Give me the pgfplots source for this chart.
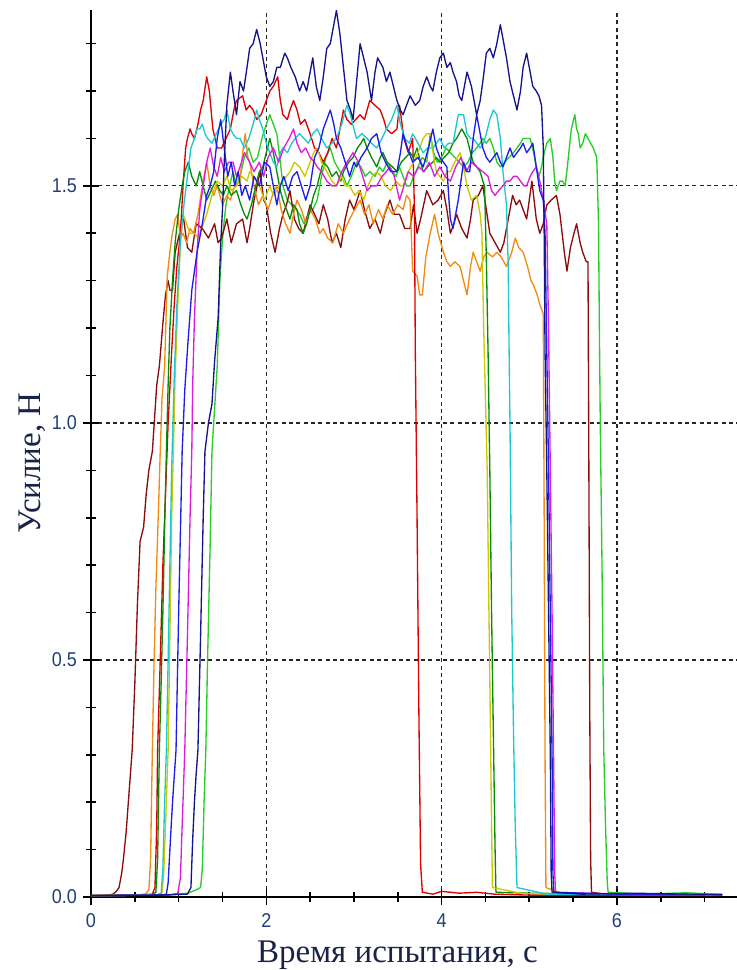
\documentclass[border=0pt]{standalone}
\usepackage{pgfplots}
\pgfplotsset{compat=1.18}
\usepackage{fontspec}
\setmainfont{Liberation Serif}
\newfontfamily\tickfont[FakeStretch=0.9]{Liberation Sans}

\definecolor{cMaroon}{RGB}{140,12,12}
\definecolor{cOrange}{RGB}{240,140,20}
\definecolor{cRed}{RGB}{220,0,0}
\definecolor{cDkGreen}{RGB}{10,140,10}
\definecolor{cYellow}{RGB}{205,200,0}
\definecolor{cCyan}{RGB}{30,200,210}
\definecolor{cBlue}{RGB}{30,30,230}
\definecolor{cMagenta}{RGB}{220,30,220}
\definecolor{cNavy}{RGB}{20,20,140}
\definecolor{cGreen}{RGB}{40,205,40}
\definecolor{tickblue}{RGB}{32,64,115}
\definecolor{labelnavy}{RGB}{25,35,70}

\begin{document}
\begin{tikzpicture}
\path[use as bounding box] (-68.25pt,-54.75pt) rectangle (484.5pt,672.75pt);
\begin{axis}[
  at={(0,0)}, anchor=south west,
  scale only axis, width=484.5pt, height=665.25pt,
  xmin=0, xmax=7.37, ymin=0, ymax=1.871,
  axis x line=bottom, axis y line=left,
  axis line style={-, line width=1.3pt, black},
  xtick={0,2,4,6}, xticklabels={0,2,4,6},
  minor xtick={0.5,1,1.5,2.5,3,3.5,4.5,5,5.5,6.5,7},
  ytick={0,0.5,1,1.5}, yticklabels={0.0,0.5,1.0,1.5},
  minor ytick={0.1,0.2,0.3,0.4,0.6,0.7,0.8,0.9,1.1,1.2,1.3,1.4,1.6,1.7,1.8},
  tick align=center,
  major tick length=12pt, minor tick length=7pt,
  every tick/.style={black, line width=1.2pt},
  grid=major,
  major grid style={black!85, line width=0.9pt, dash pattern=on 3pt off 2.5pt},
  ticklabel style={font=\tickfont\fontsize{15}{16}\selectfont, text=tickblue},
  xticklabel style={yshift=-3pt},
  yticklabel style={xshift=-1pt},
  xlabel={Время испытания, с},
  ylabel={Усилие, Н},
  label style={font=\fontsize{24.75}{28}\selectfont, text=labelnavy},
  xlabel style={at={(axis description cs:0.4745,-0.0733)}, anchor=base},
  ylabel style={at={(axis description cs:-0.0789,0.4893)}, anchor=base},
  every axis plot/.append style={line width=1pt, line join=round, mark=none},
  clip=false,
]

% bright green run
\addplot[cGreen] coordinates {
(0,0.003) (0.9,0.005) (1.1,0.008) (1.2,0.015) (1.25,0.02) (1.27,0.06) (1.29,0.2) (1.31,0.31) (1.33,0.5) (1.36,0.75) (1.38,0.94) (1.41,1.03) (1.44,1.12) (1.47,1.30) (1.49,1.36) (1.51,1.41) (1.54,1.46) (1.58,1.50) (1.62,1.53) (1.66,1.50) (1.70,1.52) (1.75,1.56) (1.80,1.58) (1.85,1.55) (1.90,1.56) (1.95,1.60) (2.00,1.63) (2.04,1.65) (2.08,1.63) (2.12,1.61) (2.16,1.55) (2.19,1.50) (2.24,1.47) (2.29,1.46) (2.34,1.45) (2.38,1.44) (2.43,1.42) (2.48,1.44) (2.53,1.45) (2.58,1.47) (2.63,1.52) (2.68,1.56) (2.73,1.58) (2.78,1.55) (2.84,1.53) (2.88,1.52) (2.92,1.50) (2.97,1.52) (3.03,1.55) (3.08,1.54) (3.13,1.52) (3.18,1.53) (3.24,1.52) (3.29,1.54) (3.33,1.53) (3.38,1.55) (3.44,1.53) (3.48,1.52) (3.52,1.54) (3.56,1.52) (3.60,1.50) (3.64,1.50) (3.68,1.52) (3.73,1.54) (3.78,1.56) (3.83,1.55) (3.87,1.61) (3.91,1.57) (3.95,1.55) (4.00,1.56) (4.05,1.58) (4.10,1.57) (4.15,1.56) (4.20,1.55) (4.25,1.54) (4.30,1.55) (4.35,1.57) (4.40,1.58) (4.44,1.59) (4.47,1.60) (4.51,1.59) (4.55,1.60) (4.59,1.58) (4.63,1.55) (4.67,1.54) (4.72,1.55) (4.77,1.56) (4.82,1.57) (4.86,1.58) (4.90,1.59) (4.93,1.60) (4.97,1.60) (5.01,1.60) (5.05,1.57) (5.08,1.54) (5.11,1.52) (5.14,1.54) (5.17,1.57) (5.20,1.59) (5.24,1.60) (5.27,1.56) (5.29,1.51) (5.31,1.49) (5.35,1.51) (5.38,1.51) (5.41,1.50) (5.44,1.55) (5.48,1.62) (5.52,1.65) (5.54,1.62) (5.56,1.61) (5.58,1.58) (5.61,1.59) (5.64,1.61) (5.67,1.60) (5.70,1.59) (5.73,1.58) (5.77,1.56) (5.79,1.42) (5.80,1.20) (5.81,1.0) (5.83,0.7) (5.85,0.31) (5.87,0.15) (5.89,0.03) (5.90,0.01) (6.3,0.006) (6.8,0.009) (7.2,0.005)
};

% maroon run
\addplot[cMaroon] coordinates {
(0,0.003) (0.2,0.004) (0.25,0.006) (0.29,0.012) (0.32,0.02) (0.35,0.05) (0.37,0.08) (0.40,0.135) (0.43,0.21) (0.47,0.31) (0.50,0.45) (0.53,0.62) (0.56,0.75) (0.60,0.78) (0.63,0.85) (0.66,0.9) (0.70,0.94) (0.75,1.08) (0.78,1.12) (0.82,1.21) (0.85,1.27) (0.88,1.30) (0.90,1.28) (0.93,1.28) (0.96,1.36) (1.01,1.40) (1.05,1.44) (1.10,1.37) (1.15,1.36) (1.20,1.42) (1.27,1.41) (1.34,1.39) (1.41,1.42) (1.45,1.38) (1.49,1.39) (1.55,1.43) (1.60,1.38) (1.66,1.42) (1.73,1.43) (1.78,1.38) (1.81,1.41) (1.86,1.47) (1.93,1.53) (1.97,1.47) (2.0,1.46) (2.05,1.40) (2.10,1.36) (2.15,1.41) (2.19,1.44) (2.23,1.46) (2.27,1.49) (2.32,1.43) (2.37,1.41) (2.42,1.40) (2.46,1.43) (2.50,1.46) (2.55,1.44) (2.60,1.42) (2.65,1.46) (2.70,1.43) (2.75,1.38) (2.80,1.40) (2.85,1.37) (2.90,1.43) (2.95,1.47) (3.0,1.45) (3.07,1.49) (3.12,1.45) (3.18,1.41) (3.24,1.43) (3.30,1.40) (3.35,1.44) (3.41,1.47) (3.46,1.44) (3.52,1.44) (3.58,1.41) (3.64,1.41) (3.68,1.46) (3.72,1.40) (3.76,1.43) (3.83,1.49) (3.9,1.46) (3.96,1.47) (4.02,1.49) (4.06,1.45) (4.10,1.40) (4.14,1.42) (4.17,1.44) (4.23,1.41) (4.29,1.39) (4.33,1.43) (4.36,1.47) (4.42,1.48) (4.47,1.50) (4.51,1.45) (4.55,1.40) (4.61,1.38) (4.67,1.36) (4.71,1.38) (4.74,1.41) (4.78,1.45) (4.81,1.48) (4.85,1.46) (4.89,1.47) (4.93,1.45) (4.97,1.43) (5.03,1.51) (5.08,1.43) (5.12,1.40) (5.16,1.42) (5.20,1.46) (5.25,1.47) (5.31,1.48) (5.35,1.44) (5.40,1.36) (5.43,1.32) (5.47,1.37) (5.51,1.40) (5.54,1.42) (5.58,1.38) (5.61,1.36) (5.65,1.34) (5.67,1.34) (5.68,0.9) (5.69,0.4) (5.70,0.08) (5.71,0.01) (5.9,0.005) (6.5,0.004) (7.2,0.004)
};

% orange run
\addplot[cOrange] coordinates {
(0,0.003) (0.5,0.004) (0.62,0.006) (0.66,0.015) (0.68,0.08) (0.69,0.2) (0.70,0.31) (0.72,0.5) (0.74,0.65) (0.77,0.82) (0.79,0.94) (0.81,1.05) (0.84,1.12) (0.87,1.31) (0.90,1.36) (0.92,1.39) (0.96,1.43) (0.99,1.44) (1.02,1.39) (1.05,1.40) (1.09,1.38) (1.13,1.41) (1.17,1.40) (1.22,1.44) (1.27,1.50) (1.32,1.55) (1.36,1.50) (1.40,1.48) (1.44,1.50) (1.50,1.46) (1.55,1.48) (1.59,1.47) (1.64,1.50) (1.70,1.51) (1.73,1.57) (1.76,1.61) (1.79,1.56) (1.81,1.55) (1.86,1.50) (1.91,1.46) (1.96,1.48) (2.02,1.45) (2.07,1.48) (2.12,1.50) (2.17,1.45) (2.22,1.42) (2.27,1.40) (2.31,1.44) (2.35,1.47) (2.40,1.45) (2.45,1.42) (2.50,1.45) (2.56,1.43) (2.61,1.40) (2.65,1.41) (2.70,1.39) (2.76,1.38) (2.82,1.42) (2.88,1.40) (2.95,1.43) (3.01,1.45) (3.07,1.47) (3.12,1.44) (3.17,1.46) (3.22,1.42) (3.28,1.45) (3.33,1.43) (3.38,1.46) (3.44,1.44) (3.50,1.46) (3.56,1.45) (3.60,1.48) (3.64,1.47) (3.67,1.32) (3.72,1.31) (3.75,1.27) (3.78,1.27) (3.82,1.35) (3.87,1.40) (3.92,1.44) (3.96,1.40) (4.02,1.36) (4.06,1.34) (4.10,1.33) (4.15,1.34) (4.21,1.33) (4.25,1.30) (4.29,1.27) (4.33,1.33) (4.36,1.36) (4.40,1.34) (4.44,1.32) (4.48,1.35) (4.52,1.36) (4.58,1.35) (4.63,1.36) (4.68,1.35) (4.74,1.33) (4.80,1.36) (4.84,1.39) (4.88,1.37) (4.93,1.36) (4.98,1.33) (5.02,1.30) (5.05,1.29) (5.09,1.27) (5.12,1.25) (5.16,1.23) (5.17,0.8) (5.18,0.3) (5.19,0.02) (5.4,0.005) (6.5,0.004) (7.2,0.004)
};

% red run
\addplot[cRed] coordinates {
(0,0.003) (0.5,0.004) (0.70,0.006) (0.73,0.02) (0.75,0.15) (0.76,0.31) (0.79,0.5) (0.82,0.7) (0.85,0.85) (0.88,1.0) (0.92,1.15) (0.95,1.25) (0.98,1.33) (1.02,1.40) (1.05,1.50) (1.08,1.58) (1.10,1.60) (1.13,1.62) (1.15,1.61) (1.18,1.60) (1.22,1.63) (1.25,1.66) (1.28,1.68) (1.32,1.73) (1.35,1.70) (1.39,1.62) (1.44,1.58) (1.49,1.58) (1.54,1.60) (1.59,1.62) (1.63,1.66) (1.66,1.68) (1.73,1.69) (1.77,1.66) (1.81,1.67) (1.85,1.66) (1.89,1.64) (1.94,1.65) (2.0,1.68) (2.04,1.70) (2.08,1.71) (2.13,1.73) (2.16,1.68) (2.19,1.65) (2.24,1.64) (2.27,1.66) (2.31,1.68) (2.35,1.66) (2.39,1.63) (2.44,1.64) (2.50,1.61) (2.55,1.58) (2.60,1.57) (2.65,1.55) (2.70,1.57) (2.75,1.60) (2.80,1.58) (2.84,1.62) (2.88,1.66) (2.92,1.64) (2.97,1.63) (3.02,1.64) (3.07,1.65) (3.12,1.64) (3.18,1.68) (3.24,1.67) (3.30,1.66) (3.34,1.64) (3.37,1.62) (3.43,1.61) (3.49,1.62) (3.52,1.67) (3.57,1.60) (3.62,1.57) (3.67,1.60) (3.69,1.45) (3.70,1.15) (3.72,0.8) (3.74,0.4) (3.76,0.07) (3.78,0.01) (3.9,0.006) (4.0,0.012) (4.2,0.008) (4.4,0.01) (4.6,0.006) (5.0,0.004) (7.2,0.003)
};

% dark green run
\addplot[cDkGreen] coordinates {
(0,0.003) (0.7,0.005) (0.74,0.01) (0.76,0.08) (0.78,0.31) (0.80,0.45) (0.82,0.6) (0.84,0.78) (0.86,0.94) (0.88,1.08) (0.90,1.2) (0.93,1.30) (0.96,1.38) (1.00,1.45) (1.04,1.50) (1.07,1.53) (1.11,1.55) (1.15,1.52) (1.20,1.50) (1.24,1.53) (1.28,1.50) (1.32,1.47) (1.37,1.49) (1.42,1.51) (1.47,1.49) (1.51,1.48) (1.55,1.50) (1.60,1.48) (1.66,1.49) (1.71,1.46) (1.75,1.44) (1.78,1.43) (1.83,1.46) (1.88,1.50) (1.92,1.53) (1.96,1.54) (2.00,1.57) (2.04,1.60) (2.08,1.57) (2.12,1.53) (2.16,1.49) (2.19,1.47) (2.23,1.45) (2.27,1.43) (2.31,1.46) (2.35,1.45) (2.38,1.42) (2.42,1.40) (2.46,1.42) (2.50,1.45) (2.54,1.48) (2.58,1.50) (2.62,1.53) (2.65,1.55) (2.70,1.54) (2.75,1.52) (2.80,1.53) (2.85,1.51) (2.88,1.53) (2.94,1.55) (2.99,1.56) (3.04,1.58) (3.08,1.59) (3.11,1.60) (3.15,1.58) (3.20,1.56) (3.26,1.54) (3.30,1.56) (3.33,1.57) (3.38,1.55) (3.44,1.54) (3.49,1.53) (3.54,1.55) (3.59,1.56) (3.64,1.57) (3.68,1.56) (3.72,1.58) (3.76,1.55) (3.79,1.53) (3.84,1.54) (3.90,1.55) (3.94,1.56) (3.98,1.55) (4.03,1.56) (4.08,1.57) (4.13,1.59) (4.17,1.60) (4.20,1.61) (4.23,1.62) (4.26,1.61) (4.29,1.60) (4.33,1.57) (4.36,1.55) (4.40,1.54) (4.44,1.53) (4.47,1.51) (4.49,1.50) (4.51,1.35) (4.53,1.15) (4.55,0.9) (4.57,0.6) (4.59,0.35) (4.61,0.1) (4.62,0.01) (5.0,0.008) (6.0,0.006) (7.2,0.005)
};

% yellow run
\addplot[cYellow] coordinates {
(0,0.003) (0.75,0.004) (0.81,0.008) (0.83,0.05) (0.85,0.15) (0.88,0.31) (0.90,0.55) (0.92,0.8) (0.94,0.94) (0.96,1.1) (0.99,1.25) (1.02,1.38) (1.05,1.44) (1.09,1.42) (1.13,1.40) (1.18,1.40) (1.22,1.39) (1.26,1.41) (1.32,1.44) (1.38,1.48) (1.44,1.51) (1.50,1.50) (1.55,1.52) (1.60,1.49) (1.66,1.50) (1.72,1.52) (1.78,1.51) (1.81,1.53) (1.86,1.52) (1.92,1.50) (1.98,1.47) (2.04,1.50) (2.08,1.48) (2.12,1.49) (2.18,1.51) (2.23,1.52) (2.27,1.53) (2.32,1.55) (2.38,1.54) (2.44,1.52) (2.50,1.55) (2.54,1.57) (2.58,1.58) (2.63,1.55) (2.69,1.53) (2.75,1.51) (2.80,1.50) (2.86,1.52) (2.90,1.50) (2.95,1.50) (3.01,1.48) (3.06,1.49) (3.11,1.47) (3.16,1.50) (3.21,1.52) (3.26,1.53) (3.31,1.52) (3.36,1.50) (3.42,1.49) (3.48,1.51) (3.53,1.50) (3.56,1.50) (3.62,1.53) (3.68,1.55) (3.73,1.57) (3.79,1.60) (3.83,1.61) (3.87,1.61) (3.91,1.56) (3.94,1.53) (3.98,1.52) (4.02,1.51) (4.06,1.53) (4.10,1.53) (4.15,1.55) (4.21,1.57) (4.25,1.54) (4.29,1.50) (4.34,1.47) (4.40,1.48) (4.44,1.44) (4.46,1.40) (4.47,1.30) (4.48,1.2) (4.50,1.05) (4.52,0.9) (4.54,0.6) (4.56,0.31) (4.57,0.15) (4.58,0.02) (4.9,0.008) (5.3,0.006) (7.2,0.005)
};

% cyan run
\addplot[cCyan] coordinates {
(0,0.003) (0.75,0.004) (0.80,0.008) (0.82,0.06) (0.84,0.2) (0.86,0.31) (0.88,0.5) (0.90,0.7) (0.92,0.9) (0.95,1.1) (0.98,1.25) (1.02,1.38) (1.06,1.46) (1.10,1.52) (1.14,1.58) (1.18,1.60) (1.21,1.62) (1.24,1.62) (1.27,1.63) (1.30,1.61) (1.33,1.60) (1.38,1.59) (1.43,1.61) (1.48,1.63) (1.52,1.64) (1.55,1.66) (1.59,1.62) (1.62,1.61) (1.66,1.60) (1.70,1.60) (1.75,1.58) (1.80,1.60) (1.85,1.63) (1.89,1.66) (1.92,1.64) (1.96,1.62) (2.00,1.59) (2.04,1.57) (2.08,1.55) (2.12,1.54) (2.16,1.57) (2.19,1.58) (2.24,1.57) (2.29,1.59) (2.33,1.60) (2.38,1.61) (2.43,1.60) (2.48,1.59) (2.53,1.61) (2.58,1.62) (2.63,1.60) (2.69,1.58) (2.75,1.59) (2.80,1.60) (2.86,1.63) (2.92,1.67) (2.96,1.65) (3.00,1.62) (3.03,1.60) (3.09,1.61) (3.15,1.60) (3.20,1.59) (3.26,1.58) (3.32,1.60) (3.37,1.62) (3.43,1.64) (3.49,1.67) (3.53,1.63) (3.58,1.60) (3.63,1.59) (3.67,1.61) (3.73,1.59) (3.79,1.57) (3.84,1.58) (3.90,1.58) (3.94,1.59) (3.98,1.60) (4.03,1.58) (4.08,1.59) (4.13,1.59) (4.16,1.62) (4.19,1.65) (4.25,1.65) (4.29,1.61) (4.33,1.60) (4.36,1.60) (4.40,1.59) (4.44,1.58) (4.48,1.59) (4.51,1.61) (4.55,1.64) (4.59,1.66) (4.63,1.65) (4.67,1.60) (4.70,1.53) (4.74,1.46) (4.76,1.33) (4.77,1.15) (4.78,1.0) (4.80,0.6) (4.82,0.35) (4.84,0.15) (4.86,0.02) (5.2,0.006) (7.2,0.005)
};

% magenta run
\addplot[cMagenta] coordinates {
(0,0.003) (0.9,0.004) (0.99,0.008) (1.02,0.04) (1.04,0.15) (1.07,0.31) (1.10,0.55) (1.13,0.8) (1.15,0.94) (1.16,1.08) (1.18,1.22) (1.21,1.36) (1.24,1.45) (1.28,1.50) (1.32,1.55) (1.36,1.58) (1.40,1.54) (1.44,1.52) (1.48,1.56) (1.52,1.53) (1.57,1.55) (1.62,1.55) (1.66,1.52) (1.70,1.54) (1.75,1.57) (1.81,1.55) (1.86,1.53) (1.92,1.55) (1.97,1.52) (2.02,1.56) (2.08,1.58) (2.14,1.55) (2.20,1.58) (2.26,1.60) (2.31,1.62) (2.35,1.59) (2.40,1.57) (2.45,1.58) (2.50,1.56) (2.55,1.55) (2.58,1.54) (2.63,1.53) (2.69,1.51) (2.75,1.50) (2.80,1.50) (2.86,1.53) (2.92,1.55) (2.99,1.57) (3.05,1.55) (3.10,1.52) (3.15,1.49) (3.20,1.50) (3.26,1.50) (3.32,1.52) (3.37,1.53) (3.41,1.54) (3.46,1.52) (3.52,1.47) (3.57,1.50) (3.62,1.53) (3.68,1.52) (3.74,1.54) (3.80,1.53) (3.86,1.55) (3.92,1.52) (3.98,1.54) (4.04,1.52) (4.10,1.51) (4.16,1.54) (4.22,1.56) (4.28,1.53) (4.34,1.55) (4.40,1.54) (4.47,1.53) (4.53,1.52) (4.57,1.49) (4.61,1.48) (4.65,1.49) (4.70,1.50) (4.74,1.51) (4.78,1.51) (4.82,1.52) (4.86,1.52) (4.90,1.51) (4.94,1.50) (4.97,1.50) (5.01,1.52) (5.04,1.53) (5.08,1.54) (5.12,1.51) (5.16,1.47) (5.20,1.42) (5.22,1.20) (5.24,0.9) (5.26,0.6) (5.28,0.25) (5.29,0.05) (5.30,0.01) (6.0,0.006) (7.2,0.005)
};

% blue run
\addplot[cBlue] coordinates {
(0,0.003) (0.8,0.004) (0.86,0.006) (0.88,0.03) (0.90,0.1) (0.93,0.2) (0.97,0.31) (1.0,0.6) (1.04,0.94) (1.07,1.07) (1.11,1.18) (1.15,1.28) (1.21,1.36) (1.27,1.42) (1.32,1.48) (1.36,1.50) (1.40,1.53) (1.44,1.60) (1.48,1.64) (1.52,1.58) (1.56,1.52) (1.60,1.55) (1.64,1.50) (1.68,1.53) (1.72,1.48) (1.76,1.50) (1.81,1.47) (1.86,1.52) (1.92,1.50) (1.98,1.55) (2.04,1.54) (2.08,1.50) (2.12,1.46) (2.16,1.50) (2.20,1.52) (2.25,1.49) (2.30,1.52) (2.35,1.53) (2.40,1.50) (2.45,1.47) (2.50,1.50) (2.55,1.56) (2.60,1.58) (2.65,1.62) (2.69,1.64) (2.73,1.66) (2.77,1.63) (2.80,1.60) (2.85,1.58) (2.90,1.55) (2.95,1.52) (3.00,1.55) (3.03,1.54) (3.08,1.56) (3.15,1.58) (3.20,1.60) (3.26,1.61) (3.31,1.57) (3.36,1.55) (3.42,1.53) (3.49,1.53) (3.53,1.57) (3.56,1.61) (3.61,1.58) (3.67,1.55) (3.73,1.56) (3.79,1.54) (3.85,1.58) (3.90,1.62) (3.94,1.58) (3.98,1.56) (4.02,1.55) (4.06,1.54) (4.08,1.48) (4.10,1.43) (4.13,1.41) (4.16,1.44) (4.19,1.47) (4.22,1.51) (4.25,1.55) (4.29,1.53) (4.32,1.53) (4.36,1.60) (4.40,1.65) (4.44,1.61) (4.47,1.58) (4.51,1.56) (4.55,1.55) (4.59,1.56) (4.63,1.57) (4.67,1.55) (4.70,1.54) (4.74,1.56) (4.78,1.58) (4.82,1.56) (4.86,1.57) (4.90,1.58) (4.93,1.59) (4.97,1.57) (5.01,1.58) (5.04,1.59) (5.08,1.54) (5.12,1.49) (5.16,1.47) (5.18,1.40) (5.20,1.15) (5.22,0.9) (5.24,0.6) (5.26,0.3) (5.27,0.05) (5.28,0.01) (6.0,0.006) (7.2,0.005)
};

% navy run
\addplot[cNavy] coordinates {
(0,0.003) (0.8,0.004) (1.10,0.006) (1.14,0.02) (1.16,0.12) (1.18,0.2) (1.20,0.26) (1.22,0.31) (1.25,0.55) (1.28,0.8) (1.30,0.94) (1.34,1.0) (1.38,1.04) (1.41,1.13) (1.45,1.22) (1.48,1.38) (1.50,1.45) (1.52,1.55) (1.55,1.67) (1.59,1.74) (1.62,1.70) (1.66,1.65) (1.70,1.72) (1.74,1.70) (1.78,1.75) (1.81,1.79) (1.85,1.80) (1.89,1.83) (1.93,1.80) (1.97,1.76) (2.0,1.73) (2.04,1.71) (2.08,1.72) (2.12,1.75) (2.16,1.75) (2.21,1.78) (2.24,1.77) (2.28,1.75) (2.33,1.73) (2.38,1.70) (2.42,1.72) (2.46,1.70) (2.50,1.74) (2.53,1.77) (2.57,1.71) (2.61,1.68) (2.65,1.73) (2.69,1.79) (2.73,1.80) (2.77,1.84) (2.80,1.87) (2.84,1.82) (2.88,1.75) (2.92,1.68) (2.96,1.66) (2.99,1.64) (3.03,1.72) (3.07,1.80) (3.11,1.77) (3.15,1.74) (3.20,1.68) (3.24,1.74) (3.27,1.77) (3.30,1.76) (3.33,1.75) (3.37,1.72) (3.41,1.74) (3.45,1.71) (3.49,1.68) (3.53,1.66) (3.56,1.65) (3.60,1.67) (3.64,1.69) (3.70,1.67) (3.75,1.68) (3.79,1.71) (3.83,1.73) (3.87,1.71) (3.90,1.70) (3.94,1.74) (3.98,1.77) (4.02,1.78) (4.06,1.75) (4.10,1.76) (4.13,1.74) (4.17,1.72) (4.20,1.69) (4.23,1.68) (4.26,1.71) (4.29,1.74) (4.34,1.71) (4.37,1.68) (4.40,1.65) (4.44,1.68) (4.47,1.72) (4.51,1.78) (4.55,1.79) (4.59,1.77) (4.63,1.80) (4.67,1.84) (4.70,1.81) (4.74,1.77) (4.78,1.72) (4.82,1.69) (4.86,1.66) (4.90,1.70) (4.93,1.75) (4.97,1.78) (5.00,1.75) (5.04,1.71) (5.08,1.70) (5.11,1.69) (5.14,1.67) (5.16,1.58) (5.17,1.40) (5.18,1.15) (5.20,0.9) (5.22,0.6) (5.24,0.3) (5.25,0.05) (5.26,0.01) (5.6,0.006) (6.2,0.008) (6.8,0.006) (7.2,0.005)
};

\end{axis}
\end{tikzpicture}
\end{document}
